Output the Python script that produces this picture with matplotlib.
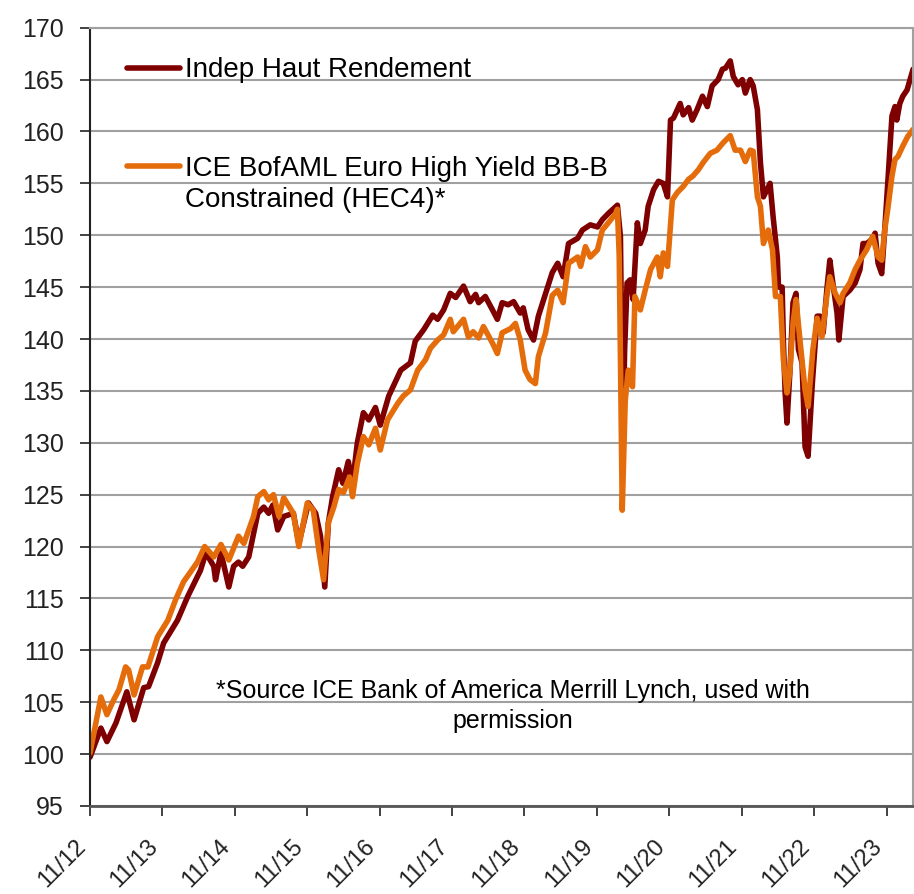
import matplotlib
matplotlib.use("Agg")
import matplotlib.pyplot as plt
from matplotlib.transforms import ScaledTranslation

plt.rcParams['font.family'] = ['Liberation Sans', 'DejaVu Sans']

# months since Nov 2012 and index values
mois_indep = [0, 1.8, 2.8, 4.3, 6.1, 7.3, 8.9, 9.7, 11.2, 12.2, 14.5, 16.2, 18.3, 19.2, 20.5,
              20.8, 21.7, 23.0, 23.8, 24.6, 25.3, 26.3, 27.8, 28.8, 29.6, 30.3, 31.1, 32.1,
              33.7, 34.6, 36.2, 37.4, 38.2, 38.9, 39.5, 40.2, 41.2, 41.9, 42.8, 43.5, 44.3,
              45.3, 46.2, 47.3, 48.1, 49.5, 51.5, 53.1, 53.9, 55.3, 56.8, 57.6, 58.6, 59.7,
              60.6, 61.9, 63.0, 63.9, 64.4, 65.5, 66.7, 67.5, 68.3, 69.3, 70.2, 71.3, 71.8,
              72.6, 73.5, 74.3, 75.5, 76.6, 77.5, 78.4, 79.3, 80.8, 81.6, 82.9, 84.1, 84.9,
              85.9, 87.4, 87.9, 88.3, 88.6, 89.0, 89.5, 90.0, 90.7, 91.2, 92.0, 92.5, 93.4,
              94.2, 95.0, 95.7, 96.2, 96.7, 97.8, 98.3, 99.2, 99.8, 100.6, 101.5, 102.3,
              103.1, 104.1, 104.8, 105.3, 106.1, 106.6, 107.4, 108.1, 108.6, 109.4, 109.9,
              110.6, 111.1, 111.6, 112.2, 112.7, 113.2, 113.9, 114.1, 114.7, 114.9, 115.2,
              115.5, 116.0, 116.5, 117.0, 117.4, 118.0, 118.5, 119.0, 119.7, 120.5, 121.0,
              121.5, 122.1, 122.6, 123.1, 123.8, 124.1, 124.8, 125.9, 126.8, 127.6, 128.1,
              128.7, 129.6, 130.1, 130.6, 131.2, 131.7, 132.2, 132.9, 133.4, 133.7, 134.2,
              134.7, 135.4, 136.2, 136.4]
indep = [99.7, 102.5, 101.2, 103.0, 106.0, 103.3, 106.4, 106.5, 108.8, 110.7, 112.9, 115.2,
         117.7, 119.4, 118.1, 116.8, 119.4, 116.1, 118.1, 118.5, 118.1, 119.0, 123.2, 123.8,
         123.2, 124.0, 121.6, 122.9, 123.2, 120.3, 124.2, 123.2, 121.0, 116.1, 122.3, 124.8,
         127.4, 126.1, 128.2, 126.1, 130.0, 132.9, 132.2, 133.4, 131.7, 134.5, 137.0, 137.7,
         139.8, 140.9, 142.3, 141.9, 142.8, 144.4, 144.0, 145.1, 143.6, 144.3, 143.5, 144.1,
         142.8, 141.9, 143.5, 143.3, 143.6, 142.5, 143.0, 140.9, 139.9, 142.2, 144.4, 146.4,
         147.3, 146.0, 149.2, 149.7, 150.5, 151.0, 150.8, 151.5, 152.1, 152.9, 149.9, 130.0,
         139.0, 145.4, 145.7, 143.8, 151.2, 149.2, 150.5, 152.8, 154.4, 155.2, 155.0, 153.7,
         161.1, 161.3, 162.7, 161.6, 162.3, 161.1, 162.1, 163.4, 162.4, 164.4, 165.0, 166.0,
         166.1, 166.8, 165.3, 164.5, 165.0, 163.7, 165.0, 164.4, 162.1, 157.0, 153.7, 154.4,
         155.0, 151.8, 147.9, 145.0, 145.0, 139.9, 134.8, 131.9, 137.0, 143.5, 144.4, 139.0,
         137.7, 129.6, 128.7, 135.7, 142.2, 142.2, 140.6, 144.7, 147.6, 145.4, 142.5, 139.9,
         144.1, 144.7, 145.4, 146.7, 149.2, 149.2, 149.6, 150.2, 147.3, 146.3, 150.5, 155.0,
         161.5, 162.4, 161.1, 162.7, 163.4, 164.0, 165.6, 166.0]

mois_ice = [0, 1.8, 2.8, 3.9, 4.8, 5.9, 6.4, 7.3, 8.7, 9.6, 11.2, 12.9, 14.2, 15.5, 17.8,
            19.0, 20.5, 21.7, 23.0, 24.6, 25.5, 27.1, 27.8, 28.8, 29.6, 30.4, 31.3, 32.1,
            33.7, 34.6, 36.0, 37.0, 37.9, 38.7, 39.5, 40.4, 41.2, 42.0, 43.0, 43.5, 44.3,
            45.3, 46.2, 47.3, 48.1, 49.3, 51.0, 51.9, 53.1, 54.3, 55.6, 56.4, 57.6, 58.6,
            59.7, 60.2, 61.9, 62.7, 63.5, 64.4, 65.2, 66.7, 67.5, 68.3, 69.7, 70.5, 71.3,
            72.1, 72.9, 73.8, 74.3, 75.5, 76.6, 77.5, 78.4, 79.3, 80.8, 81.3, 82.1, 82.9,
            84.1, 84.9, 85.9, 87.1, 87.4, 87.7, 88.2, 88.7, 89.2, 89.9, 90.3, 91.2, 92.0,
            92.9, 94.0, 94.5, 95.0, 95.7, 96.5, 97.3, 98.3, 99.2, 99.9, 100.8, 101.6, 102.8,
            103.9, 104.9, 106.1, 106.9, 107.8, 108.6, 109.4, 109.9, 110.6, 111.1, 111.6,
            112.4, 113.1, 113.6, 114.4, 114.9, 115.5, 116.0, 116.5, 117.0, 117.7, 118.5,
            119.0, 119.8, 120.5, 121.3, 122.1, 122.6, 123.5, 124.3, 124.8, 125.9, 126.8,
            127.6, 128.7, 129.7, 130.6, 131.2, 131.7, 132.2, 132.9, 133.4, 133.9, 134.7,
            135.5, 136.4]
ice = [100.1, 105.5, 103.8, 105.2, 106.2, 108.4, 108.1, 105.7, 108.4, 108.4, 111.3, 112.9,
       114.9, 116.6, 118.5, 120.0, 119.0, 120.2, 118.7, 121.0, 120.3, 122.9, 124.8, 125.3,
       124.5, 125.0, 122.9, 124.7, 123.2, 120.0, 124.2, 123.5, 119.7, 116.8, 122.3, 123.8,
       125.5, 125.2, 126.7, 124.8, 128.0, 130.6, 129.8, 131.4, 129.3, 132.2, 133.8, 134.5,
       135.1, 137.0, 138.0, 139.1, 139.9, 140.4, 141.9, 140.7, 141.9, 140.2, 140.7, 140.1,
       141.2, 139.6, 138.6, 140.6, 141.0, 141.5, 139.9, 137.0, 136.1, 135.7, 138.3, 140.6,
       144.2, 144.7, 143.5, 147.3, 147.9, 147.0, 148.9, 147.9, 148.6, 150.5, 151.2, 152.1,
       152.5, 148.0, 123.5, 134.1, 137.0, 135.4, 144.1, 142.8, 144.7, 146.7, 147.9, 146.0,
       148.3, 147.0, 153.4, 154.1, 154.7, 155.4, 155.7, 156.3, 157.0, 157.9, 158.2, 158.9,
       159.6, 158.2, 158.2, 157.1, 158.2, 158.1, 153.7, 152.8, 149.2, 150.5, 148.6, 144.1,
       144.1, 138.0, 134.8, 137.0, 141.5, 143.8, 139.6, 135.1, 133.5, 139.0, 142.0, 140.2,
       144.1, 146.0, 144.4, 143.5, 144.4, 145.4, 146.7, 147.6, 148.6, 149.9, 147.9, 147.6,
       150.5, 152.5, 155.7, 157.3, 157.6, 158.6, 159.5, 160.2]

labels_series = ['Indep Haut Rendement', 'ICE BofAML Euro High Yield BB-B']
suite_label = 'Constrained (HEC4)*'
annees = ['11/12', '11/13', '11/14', '11/15', '11/16', '11/17', '11/18', '11/19',
          '11/20', '11/21', '11/22', '11/23']
note = '*Source ICE Bank of America Merrill Lynch, used with\npermission'

fig = plt.figure(figsize=(9.14, 8.94), dpi=100)
ax = fig.add_axes([0.0985, 0.0985, 0.9005, 0.8705])

ax.plot(mois_indep, indep, color='#7F0000', lw=4, label=labels_series[0],
        solid_joinstyle='round', solid_capstyle='round')
ax.plot(mois_ice, ice, color='#E46C0A', lw=4, label=labels_series[1],
        solid_joinstyle='round', solid_capstyle='round')

ax.set_ylim(95, 170)
ax.set_yticks(range(95, 171, 5))
ax.set_xlim(0, 136.4)
ax.set_xticks([12 * i for i in range(len(annees))])
ax.set_xticklabels(annees, rotation=45, ha='right')
# nudge the slanted labels a little to the right, like the original
decal = ScaledTranslation(5 / 100, 0, fig.dpi_scale_trans)
for lab in ax.get_xticklabels():
    lab.set_transform(lab.get_transform() + decal)

ax.grid(axis='y', color='#A0A0A0', lw=1.5)
ax.set_axisbelow(True)
ax.tick_params(axis='y', labelsize=18, length=7, width=1.2, pad=12, colors='#222222')
ax.tick_params(axis='x', labelsize=17, length=7, width=1.2, pad=14, colors='#222222')
for s in ['top', 'right']:
    ax.spines[s].set_color('#A0A0A0')
    ax.spines[s].set_linewidth(1.5)
ax.spines['left'].set_color('#222222')
ax.spines['left'].set_linewidth(1.5)
ax.spines['bottom'].set_color('#555555')
ax.spines['bottom'].set_linewidth(2)

leg = ax.legend(loc='upper left', bbox_to_anchor=(0.045, 0.962), frameon=False,
                fontsize=20, handlelength=1.9, handletextpad=0.2, labelspacing=2.6,
                borderpad=0, borderaxespad=0)

fig.canvas.draw()
bb = leg.get_texts()[1].get_window_extent()
x0, y0 = fig.transFigure.inverted().transform((bb.x0, bb.y0 - 5))
fig.text(x0, y0, suite_label, fontsize=20, ha='left', va='top', color='black')

ax.text(0.514, 0.128, note, transform=ax.transAxes, fontsize=18, ha='center',
        va='center', multialignment='center', linespacing=1.3)

plt.savefig('out.png', dpi=100)
